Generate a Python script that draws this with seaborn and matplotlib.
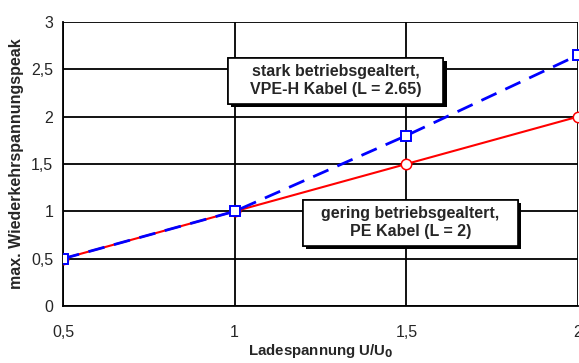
import matplotlib
matplotlib.use("Agg")
import matplotlib.pyplot as plt
import matplotlib.patheffects as pe
from matplotlib.patches import Rectangle
import seaborn as sns
import pandas as pd

# Ladespannung U/U0 and resulting peak recovery voltage
ladespannung = [0.5, 1.0, 1.5, 2.0]
vpe_h_stark = [0.5, 1.0, 1.8, 2.65]
pe_gering = [0.5, 1.0, 1.5, 2.0]

x_ticks = [0.5, 1.0, 1.5, 2.0]
x_tick_labels = ["0,5", "1", "1,5", "2"]
y_ticks = [0, 0.5, 1.0, 1.5, 2.0, 2.5, 3.0]
y_tick_labels = ["0", "0,5", "1", "1,5", "2", "2,5", "3"]

sns.set_style("white")
plt.rcParams["font.family"] = ["Liberation Sans", "DejaVu Sans"]

df_pe = pd.DataFrame({"U": ladespannung, "peak": pe_gering})
df_vpe = pd.DataFrame({"U": ladespannung, "peak": vpe_h_stark})

fig = plt.figure(figsize=(5.79, 3.63), dpi=100)
ax = fig.add_axes([63 / 579, 57 / 363, 515 / 579, 284 / 363])

sns.lineplot(data=df_pe, x="U", y="peak", ax=ax, color="#ff0000", lw=1.5,
             marker="o", markersize=7.5, markerfacecolor="white",
             markeredgecolor="#ff0000", markeredgewidth=1.1, zorder=3)
sns.lineplot(data=df_vpe, x="U", y="peak", ax=ax, color="#0000ff", lw=2.0,
             dashes=(6, 3.5), marker="s", markersize=7.5, markerfacecolor="white",
             markeredgecolor="#0000ff", markeredgewidth=1.4, zorder=4)

ax.set_xlim(0.5, 2.0)
ax.set_ylim(0, 3)
ax.set_xticks(x_ticks)
ax.set_xticklabels(x_tick_labels)
ax.set_yticks(y_ticks)
ax.set_yticklabels(y_tick_labels)
ax.grid(True, color="black", lw=1.3)
ax.set_axisbelow(True)
for side in ["top", "right"]:
    ax.spines[side].set_visible(False)
for side in ["left", "bottom"]:
    ax.spines[side].set_color("black")
    ax.spines[side].set_linewidth(1.3)
ax.tick_params(axis="both", which="both", direction="out", length=4, width=1.3,
               color="black", labelsize=11.5, pad=10)
ax.tick_params(axis="y", pad=3)

ax.set_xlabel("Ladespannung U/U$_\\mathbf{0}$", fontsize=10.8, fontweight="bold",
              labelpad=1)
ax.set_ylabel("max. Wiederkehrspannungspeak", fontsize=11.5, fontweight="bold",
              labelpad=5)

# annotation boxes: (text, x0, x1, y0, y1) in data coordinates
annotations = [
    ("stark betriebsgealtert,\nVPE-H Kabel (L = 2.65)", 0.98, 1.607, 2.134, 2.62),
    ("gering betriebsgealtert,\nPE Kabel (L = 2)", 1.199, 1.825, 0.634, 1.12),
]
for txt, x0, x1, y0, y1 in annotations:
    rect = Rectangle((x0, y0), x1 - x0, y1 - y0, fc="white", ec="black",
                     lw=1.2, zorder=6)
    rect.set_path_effects(
        [pe.withSimplePatchShadow(offset=(2.5, -2.5), shadow_rgbFace="black", alpha=1.0),
         pe.Normal()])
    ax.add_patch(rect)
    ax.text((x0 + x1) / 2, (y0 + y1) / 2, txt, ha="center", va="center",
            fontsize=11.5, fontweight="bold", zorder=7, linespacing=1.25)

fig.savefig("out.png", dpi=100)
